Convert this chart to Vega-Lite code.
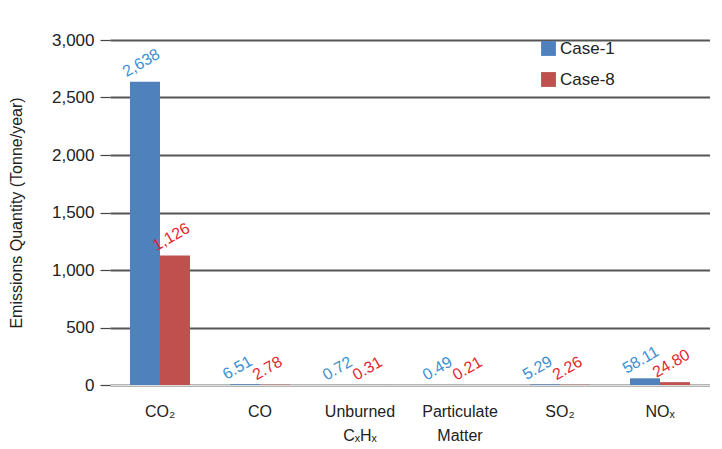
{
  "$schema": "https://vega.github.io/schema/vega-lite/v6.json",
  "width": 600,
  "height": 345,
  "padding": {"left": 8, "top": 31, "right": 0, "bottom": 5},
  "background": "white",
  "config": {
    "font": "Liberation Sans",
    "view": {"stroke": null}
  },
  "data": {
    "values": [
      {"pollutant": "CO₂", "case": "Case-1", "value": 2638, "label": "2,638"},
      {"pollutant": "CO₂", "case": "Case-8", "value": 1126, "label": "1,126"},
      {"pollutant": "CO", "case": "Case-1", "value": 6.51, "label": "6.51"},
      {"pollutant": "CO", "case": "Case-8", "value": 2.78, "label": "2.78"},
      {"pollutant": "Unburned CₓHₓ", "case": "Case-1", "value": 0.72, "label": "0.72"},
      {"pollutant": "Unburned CₓHₓ", "case": "Case-8", "value": 0.31, "label": "0.31"},
      {"pollutant": "Particulate Matter", "case": "Case-1", "value": 0.49, "label": "0.49"},
      {"pollutant": "Particulate Matter", "case": "Case-8", "value": 0.21, "label": "0.21"},
      {"pollutant": "SO₂", "case": "Case-1", "value": 5.29, "label": "5.29"},
      {"pollutant": "SO₂", "case": "Case-8", "value": 2.26, "label": "2.26"},
      {"pollutant": "NOₓ", "case": "Case-1", "value": 58.11, "label": "58.11"},
      {"pollutant": "NOₓ", "case": "Case-8", "value": 24.80, "label": "24.80"}
    ]
  },
  "encoding": {
    "x": {
      "field": "pollutant",
      "type": "nominal",
      "sort": null,
      "scale": {"paddingInner": 0.4, "paddingOuter": 0.2},
      "axis": {
        "title": null,
        "labelAngle": 0,
        "labelFontSize": 16,
        "labelColor": "#222",
        "labelExpr": "split(datum.label, ' ')",
        "labelLineHeight": 24,
        "labelPadding": 18,
        "ticks": false,
        "domainColor": "#ddd",
        "domainWidth": 1.5
      }
    },
    "xOffset": {"field": "case", "type": "nominal"},
    "y": {
      "field": "value",
      "type": "quantitative",
      "scale": {"domain": [0, 3000]},
      "axis": {
        "title": "Emissions Quantity (Tonne/year)",
        "titleFontSize": 16,
        "titleFontWeight": "normal",
        "titleColor": "#222",
        "titlePadding": 27,
        "values": [0, 500, 1000, 1500, 2000, 2500, 3000],
        "format": ",.0f",
        "labelFontSize": 17,
        "labelColor": "#222",
        "labelPadding": 6,
        "tickSize": 10,
        "tickColor": "#444",
        "tickWidth": 1.2,
        "domain": false,
        "grid": true,
        "gridColor": "#555",
        "gridWidth": 1.8
      }
    }
  },
  "layer": [
    {
      "mark": {"type": "bar"},
      "encoding": {
        "color": {
          "field": "case",
          "type": "nominal",
          "scale": {"domain": ["Case-1", "Case-8"], "range": ["#4f81bd", "#c0504d"]},
          "legend": {
            "title": null,
            "orient": "none",
            "legendX": 430,
            "legendY": 0,
            "symbolType": "square",
            "symbolSize": 220,
            "symbolStrokeWidth": 0,
            "labelFontSize": 17,
            "labelColor": "#222",
            "rowPadding": 13,
            "labelOffset": 3
          }
        }
      }
    },
    {
      "mark": {"type": "text", "angle": -30, "align": "left", "baseline": "bottom", "dx": -14, "dy": -10, "fontSize": 16},
      "encoding": {
        "text": {"field": "label"},
        "fill": {
          "field": "case",
          "type": "nominal",
          "scale": {"domain": ["Case-1", "Case-8"], "range": ["#3b8fd4", "#e3262b"]},
          "legend": null
        }
      }
    }
  ]
}
